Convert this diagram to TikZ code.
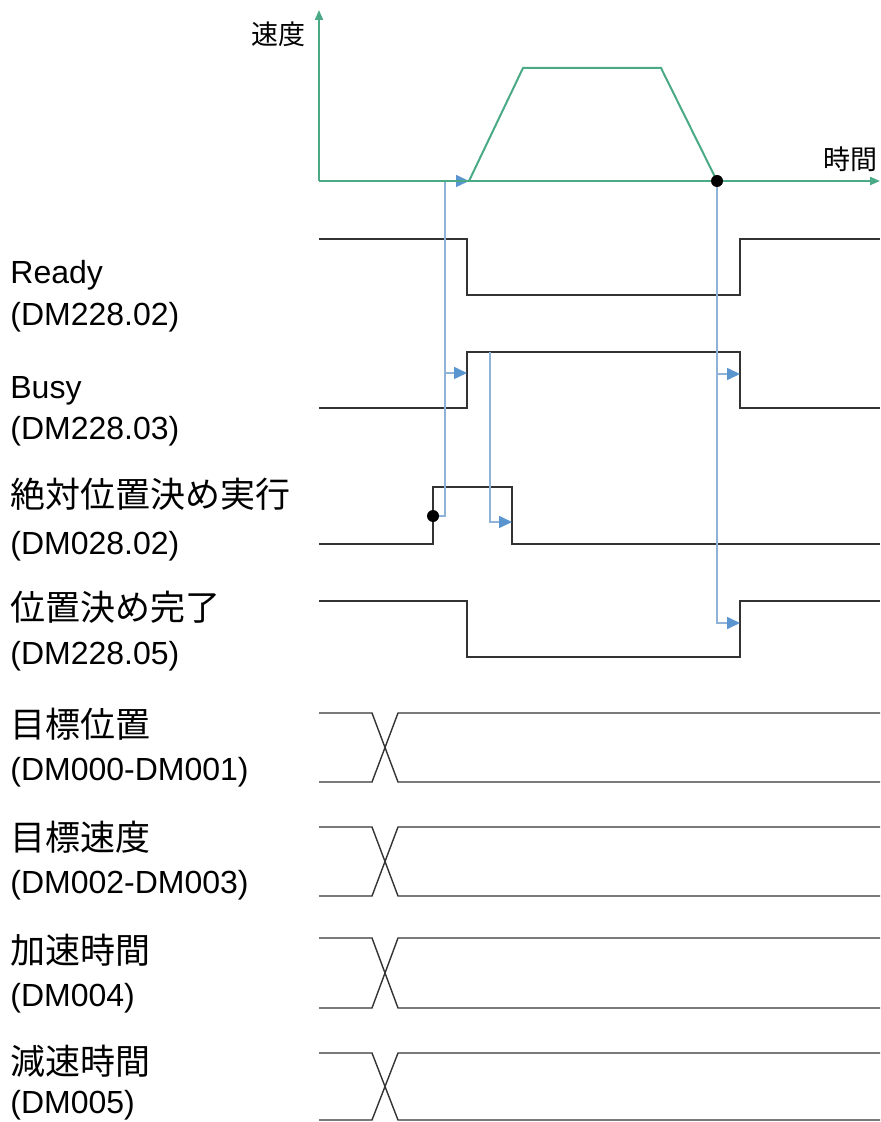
\documentclass[tikz,border=0pt]{standalone}
\usepackage{fontspec}
\setmainfont{Liberation Sans}
\newfontfamily\jpfont{Noto Sans CJK JP}
\usetikzlibrary{arrows.meta}
\definecolor{WaveGrey}{HTML}{333333}
\definecolor{AxisGreen}{HTML}{4AAA85}
\definecolor{LinkBlue}{HTML}{8FB2D8}
\definecolor{TipBlue}{HTML}{5B95CF}

\tikzset{
  wave/.style={WaveGrey, line width=1.1pt},
  busline/.style={WaveGrey, line width=0.7pt},
  axis/.style={AxisGreen, line width=1pt},
  link/.style={LinkBlue, line width=0.8pt, -{Triangle[length=6.5pt,width=6pt,color=TipBlue]}},
  sigtext/.style={anchor=base west, inner sep=0pt, font=\fontsize{16}{18}\selectfont},
  sigjp/.style={sigtext, font=\jpfont\fontsize{17.5}{20}\selectfont},
  axtext/.style={anchor=base east, inner sep=0pt, font=\jpfont\fontsize{13.5}{15}\selectfont},
}

\begin{document}
\begin{tikzpicture}[x=0.5pt,y=-0.5pt]
  \fill[white] (0,0) rectangle (880,1122);
  \useasboundingbox (0,0) rectangle (880,1122);

  % speed profile
  \coordinate (origin) at (319,181);
  \coordinate (vtop) at (319,10);
  \coordinate (tend) at (880,181);
  \coordinate (accstart) at (469,181);
  \coordinate (decend) at (717,181);
  \node[axtext] (vlabel) at (306,45) {速度};
  \node[axtext] (tlabel) at (878,170) {時間};

  % handshake signals
  \draw[wave] (319,239) -- (467,239) -- (467,295) -- (740,295) -- (740,239) -- (880,239);
  \draw[wave] (319,408) -- (467,408) -- (467,352) -- (740,352) -- (740,408) -- (880,408);
  \draw[wave] (319,544) -- (433,544) -- (433,487) -- (512,487) -- (512,544) -- (880,544);
  \draw[wave] (319,601) -- (467,601) -- (467,657) -- (740,657) -- (740,601) -- (880,601);

  % data registers
  \foreach \t/\b in {713/782, 827/896, 938/1008, 1053/1120} {
    \draw[busline] (319,\t) -- (372,\t) -- (398,\b) -- (880,\b);
    \draw[busline] (319,\b) -- (372,\b) -- (398,\t) -- (880,\t);
  }

  % causality
  \coordinate (trig) at (433,516);
  \coordinate (busyup) at (467,373);
  \coordinate (busyhigh) at (490,352);
  \coordinate (execoff) at (512,522);
  \coordinate (busydown) at (740,374);
  \coordinate (doneup) at (740,623);
  \draw[link] (trig) -- ++(12,0) |- (accstart);
  \draw[link] (trig) ++(12,0) |- (busyup);
  \draw[link] (busyhigh) |- (execoff);
  \draw[link] (decend) |- (busydown);
  \draw[link] (decend) |- (doneup);

  \draw[axis,-{Triangle[length=5pt,width=4pt]}] (origin) -- (vtop);
  \draw[axis,-{Triangle[length=5pt,width=4pt]}] (origin) -- (tend);
  \draw[axis] (accstart) -- (523,68) -- (661,68) -- (decend);
  \fill[black] (trig) circle (6);
  \fill[black] (decend) circle (6);

  % labels
  \node[sigtext] (readytxt) at (10,284) {Ready};
  \node[sigtext] (readyaddr) at (10,326) {(DM228.02)};
  \node[sigtext] (busytxt) at (10,399) {Busy};
  \node[sigtext] (busyaddr) at (10,439) {(DM228.03)};
  \node[sigjp] (exectxt) at (10,507) {絶対位置決め実行};
  \node[sigtext] (execaddr) at (10,554) {(DM028.02)};
  \node[sigjp] (donetxt) at (10,620) {位置決め完了};
  \node[sigtext] (doneaddr) at (10,664) {(DM228.05)};
  \node[sigjp] (postxt) at (10,737) {目標位置};
  \node[sigtext] (posaddr) at (10,780) {(DM000-DM001)};
  \node[sigjp] (spdtxt) at (10,850) {目標速度};
  \node[sigtext] (spdaddr) at (10,893) {(DM002-DM003)};
  \node[sigjp] (acctxt) at (10,963) {加速時間};
  \node[sigtext] (accaddr) at (10,1006) {(DM004)};
  \node[sigjp] (dectxt) at (10,1074) {減速時間};
  \node[sigtext] (decaddr) at (10,1113) {(DM005)};
\end{tikzpicture}
\end{document}
